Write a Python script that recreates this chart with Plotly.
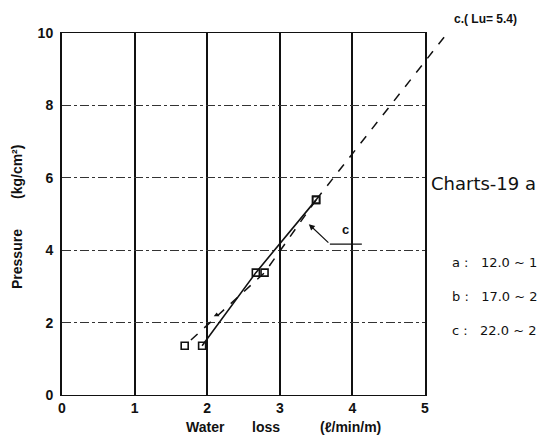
import plotly.graph_objects as go

# Packer test readings: water loss (l/min/m) vs. pressure (kg/cm2)
loading_x = [1.93, 2.67, 3.50]
loading_y = [1.36, 3.38, 5.39]
unloading_x = [3.50, 2.79, 1.69]
unloading_y = [5.39, 3.38, 1.36]
extension_x = [3.50, 5.32]
extension_y = [5.39, 10.03]
arrow_mark_x = [2.13]
arrow_mark_y = [2.21]
leader_x = [3.69, 4.13]
leader_y = [4.17, 4.17]

x_ticks = [0, 1, 2, 3, 4, 5]
y_ticks = [0, 2, 4, 6, 8, 10]
legend_lines = ["a :   12.0 ~ 1", "b :   17.0 ~ 2", "c :   22.0 ~ 2"]

W, H = 542, 438
L, R, T, B = 62, 82, 20, 43
PW, PH = W - L - R, H - T - B
X0, X1 = 62, 425   # pixel span of x = 0..5
Y0, Y1 = 395, 33   # pixel span of y = 0..10

def px(x):
    return (x - L) / PW

def py(y):
    return (H - B - y) / PH

xdom = [0, (X1 - L) / PW]
ydom = [0, (Y0 - Y1) / PH]
# second subplot spans the whole plotting region with the same scale,
# so the fitted line can run past the frame
x2max = 5 * PW / (X1 - X0)
y2max = 10 * PH / (Y0 - Y1)

fig = go.Figure()
black = "#111111"

fig.add_trace(go.Scatter(x=loading_x, y=loading_y, mode="lines+markers",
                         line=dict(color=black, width=1.6),
                         marker=dict(symbol="square-open", size=7, color=black,
                                     line=dict(width=1.6)),
                         showlegend=False))
fig.add_trace(go.Scatter(x=unloading_x, y=unloading_y, mode="lines+markers",
                         line=dict(color=black, width=1.5, dash="dash"),
                         marker=dict(symbol="square-open", size=7, color=black,
                                     line=dict(width=1.6)),
                         showlegend=False))
fig.add_trace(go.Scatter(x=arrow_mark_x, y=arrow_mark_y, mode="markers",
                         marker=dict(symbol="triangle-up", size=5, color=black),
                         showlegend=False))
fig.add_trace(go.Scatter(x=leader_x, y=leader_y, mode="lines",
                         line=dict(color=black, width=1.2), showlegend=False))
fig.add_trace(go.Scatter(x=extension_x, y=extension_y, mode="lines",
                         line=dict(color=black, width=1.5, dash="dash"),
                         xaxis="x2", yaxis="y2", showlegend=False))

tick_font = dict(family="Liberation Sans", size=14, color=black, weight="bold")

fig.update_layout(
    width=W, height=H,
    margin=dict(l=L, r=R, t=T, b=B),
    paper_bgcolor="white", plot_bgcolor="rgba(0,0,0,0)",
    xaxis=dict(domain=xdom, range=[0, 5], tickvals=x_ticks, anchor="y",
               showgrid=True, gridcolor=black, gridwidth=1.5,
               showline=True, linecolor=black, linewidth=1.3, mirror=True,
               zeroline=False, ticks="", tickfont=tick_font, ticklabelstandoff=0),
    yaxis=dict(domain=ydom, range=[0, 10], tickvals=y_ticks, anchor="x",
               showgrid=True, gridcolor="#333333", gridwidth=1, griddash="dashdot",
               showline=True, linecolor=black, linewidth=2, mirror=True,
               zeroline=False, ticks="", tickfont=tick_font, ticklabelstandoff=4),
    xaxis2=dict(domain=[0, 1], range=[0, x2max], anchor="y2", visible=False),
    yaxis2=dict(domain=[0, 1], range=[0, y2max], anchor="x2", visible=False),
)

def note(text, x, y, size=13, bold=True, xanchor="center", angle=0, family="Liberation Sans"):
    fig.add_annotation(text=text, x=px(x), y=py(y), xref="paper", yref="paper",
                       showarrow=False, xanchor=xanchor, yanchor="middle",
                       textangle=angle,
                       font=dict(family=family, size=size, color=black,
                                 weight="bold" if bold else "normal"))

# arrow of the "c" leader
fig.add_annotation(x=3.40, y=4.72, ax=3.69, ay=4.17, xref="x", yref="y",
                   axref="x", ayref="y", text="", showarrow=True,
                   arrowhead=2, arrowsize=1, arrowwidth=1.2, arrowcolor=black)

note("c", 345, 229)
note("c.( Lu= 5.4)", 452, 19, size=12, xanchor="left")
note("Charts-19 a", 429, 183, size=18, bold=False, xanchor="left",
     family="DejaVu Sans")
for i, line in enumerate(legend_lines):
    note(line, 450, 262 + 34 * i, size=13, bold=False, xanchor="left",
         family="DejaVu Sans")

note("Water", 205, 427, size=14)
note("loss", 266, 427, size=14)
note("(ℓ/min/m)", 350, 427, size=14)
note("Pressure", 17, 259, size=14, angle=-90)
note("(kg/cm²)", 17, 172, size=14, angle=-90)

fig.write_html("out.html")
